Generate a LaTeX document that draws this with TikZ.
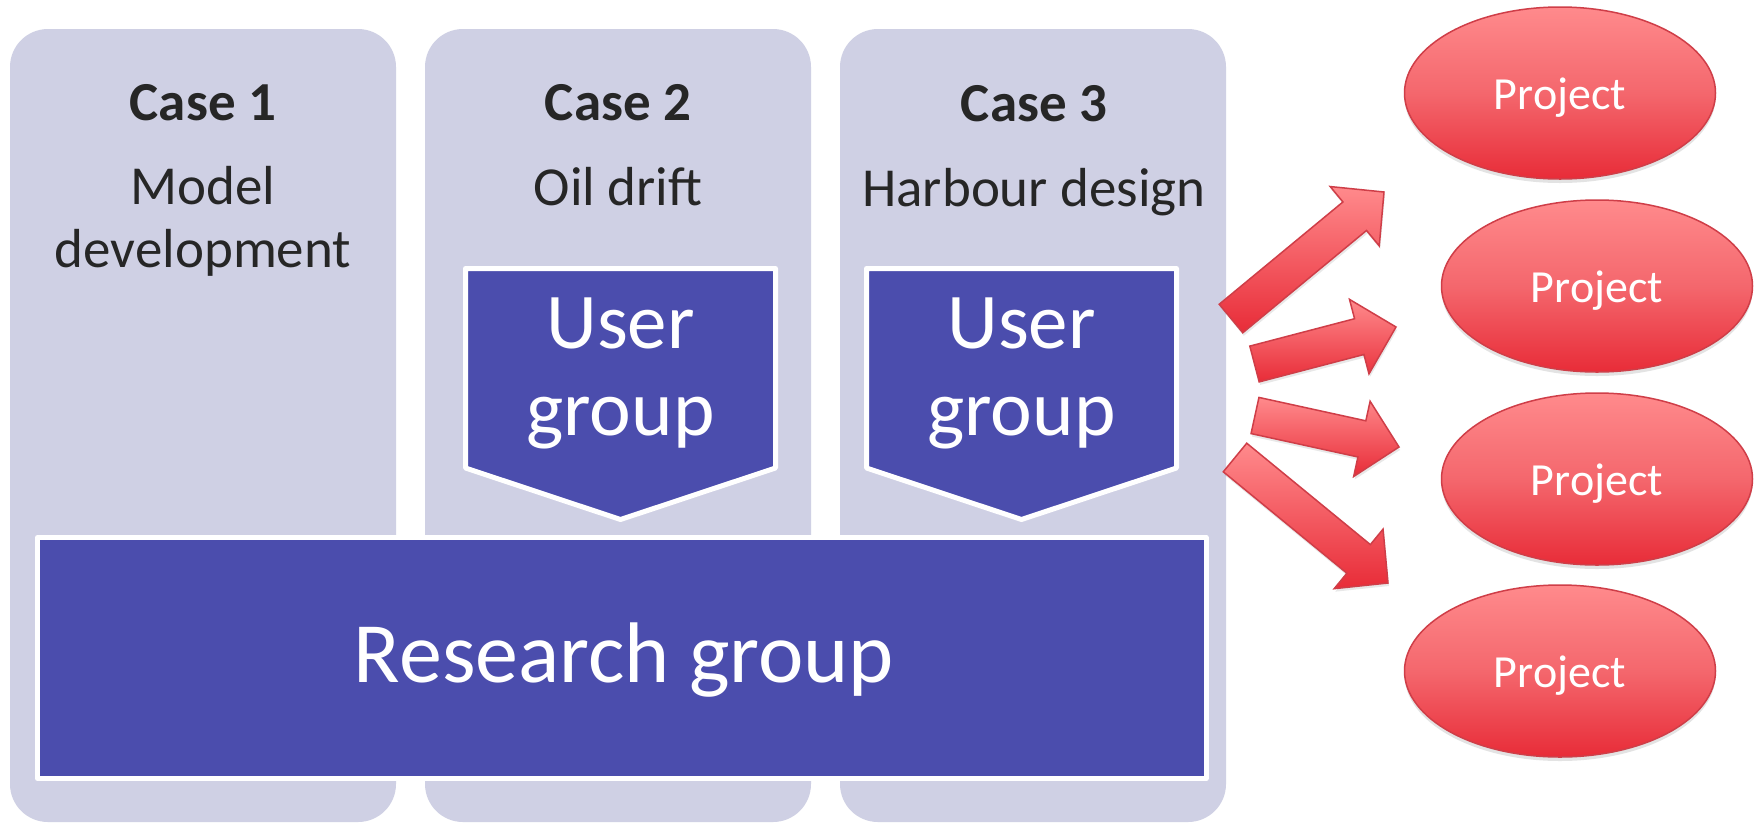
\documentclass[tikz,border=0pt]{standalone}
\usepackage{fontspec}
\setmainfont{Carlito}
\usetikzlibrary{calc,shadows,shapes.geometric}
\definecolor{panel}{HTML}{CFD0E4}
\definecolor{ublue}{HTML}{4B4DAD}
\definecolor{dtext}{HTML}{262626}
\definecolor{ptop}{HTML}{FF8A8C}
\definecolor{pmid}{HTML}{F4676D}
\definecolor{pbot}{HTML}{E82C38}
\definecolor{pedge}{HTML}{CF3E48}
\tikzset{
  panelbox/.style={rectangle, rounded corners=38pt, fill=panel, inner sep=0pt, minimum width=386pt, minimum height=793pt},
  casehead/.style={anchor=base, text=dtext, font=\fontsize{55}{63}\selectfont\bfseries, inner sep=0pt},
  casetext/.style={anchor=base, text=dtext, font=\fontsize{55}{63}\selectfont, align=center, inner sep=0pt},
  usertext/.style={anchor=base, text=white, font=\fontsize{79}{87}\selectfont, align=center, inner sep=0pt},
  bluebox/.style={fill=ublue, draw=white, line width=5pt, line join=round},
  rgtext/.style={anchor=base, text=white, font=\fontsize{86}{100}\selectfont, inner sep=0pt},
  proj/.style={ellipse, minimum width=311pt, minimum height=172pt, inner sep=0pt,
    top color=ptop, bottom color=pbot, middle color=pmid, draw=pedge, line width=1.5pt,
    text=white, font=\fontsize{46}{50}\selectfont, text height=32pt, text depth=0pt,
    drop shadow={opacity=0.22, shadow xshift=0pt, shadow yshift=-4pt}},
  blockarr/.style={top color=ptop, bottom color=pbot, draw=pedge, line width=1.5pt, line join=miter,
    drop shadow={opacity=0.18, shadow xshift=1pt, shadow yshift=-3pt}},
}
\newcommand\blockarrow[3]{%
  \coordinate (#1T) at (#2);
  \coordinate (#1P) at (#3);
  \coordinate (#1H) at ($(#1P)!38pt!(#1T)$);
  \path[blockarr] ($(#1T)!18.5pt!90:(#1P)$) -- ($(#1H)!18.5pt!-90:(#1T)$) -- ($(#1H)!38.5pt!-90:(#1T)$)
    -- (#1P) -- ($(#1H)!38.5pt!90:(#1T)$) -- ($(#1H)!18.5pt!90:(#1T)$) -- ($(#1T)!18.5pt!-90:(#1P)$) -- cycle;
}
\begin{document}
\begin{tikzpicture}[x=1pt,y=-1pt]
\useasboundingbox (0,0) rectangle (1762,823);
\fill[white] (0,0) rectangle (1762,823);
% panels
\node[panelbox] (p1) at (203,425.5) {};
\node[panelbox] (p2) at (618,425.5) {};
\node[panelbox] (p3) at (1033,425.5) {};
% case texts
\node[casehead] (c1h) at (203,120) {Case 1};
\node[casetext] (c1t) at (203,267) {Model\\development};
\node[casehead] (c2h) at (618,120) {Case 2};
\node[casetext] (c2t) at (618,205) {Oil drift};
\node[casehead] (c3h) at (1034,121) {Case 3};
\node[casetext] (c3t) at (1034,206) {Harbour design};
% user groups
\path[bluebox] (465.5,268.5) -- (775.5,268.5) -- (775.5,468) -- (620.5,519.5) -- (465.5,468) -- cycle;
\node[usertext] (u2) at (620.5,435) {User\\group};
\path[bluebox] (866.5,268.5) -- (1176.5,268.5) -- (1176.5,468) -- (1021.5,519.5) -- (866.5,468) -- cycle;
\node[usertext] (u3) at (1021.5,435) {User\\group};
% research group
\node[bluebox, rectangle, inner sep=0pt, minimum width=1168.5pt, minimum height=241pt] (rg) at (621.75,658) {};
\node[rgtext] (rgt) at (624,682) {Research group};
% arrows
\blockarrow{a1}{1231,318.5}{1384,192}
\blockarrow{a2}{1254.5,364}{1396,327}
\blockarrow{a3}{1255,415.5}{1399,447}
\blockarrow{a4}{1235,457.5}{1388,583}
% projects
\node[proj] (e1) at (1560,93) {Project};
\node[proj] (e2) at (1597,286) {Project};
\node[proj] (e3) at (1597,479) {Project};
\node[proj] (e4) at (1560,671) {Project};
\end{tikzpicture}
\end{document}
